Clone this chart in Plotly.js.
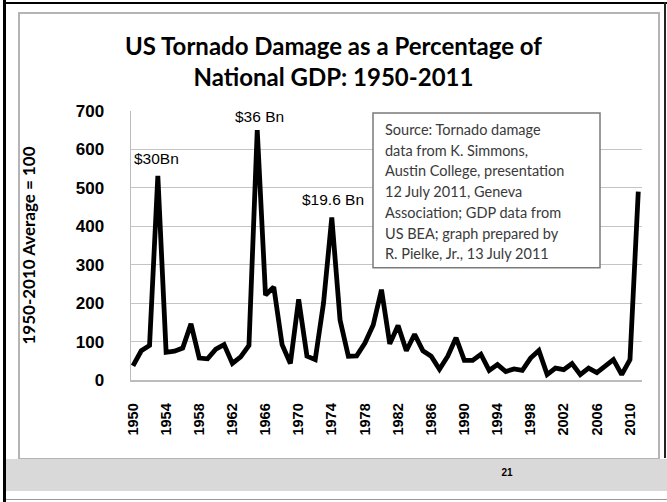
<!DOCTYPE html>
<html>
<head>
<meta charset="utf-8">
<script src="https://cdn.plot.ly/plotly-3.0.1.min.js"></script>
<style>
  html, body { margin: 0; padding: 0; background: #ffffff; }
  #wrap { position: relative; width: 667px; height: 502px; overflow: hidden; background: #ffffff; }
  .deco { position: absolute; pointer-events: none; }
  #chart { position: absolute; left: 0; top: 0; width: 667px; height: 502px; }
</style>
</head>
<body>
<div id="wrap">
  <div class="deco" style="left:3px; top:0; width:3px; height:502px; background:#000;"></div>
  <div class="deco" style="left:3px; top:2px; width:664px; height:2px; background:#000;"></div>
  <div class="deco" style="left:664px; top:2px; width:2px; height:456px; background:#222;"></div>
  <div class="deco" style="left:18px; top:12px; width:638px; height:444px; border:2px solid #b4b4b4; background:#fff;"></div>
  <div class="deco" style="left:6px; top:459px; width:661px; height:32px; background:#d9d9d9;"></div>
  <div class="deco" style="left:6px; top:499px; width:661px; height:1px; background:#9a9a9a;"></div>
  <div class="deco" style="left:497px; top:465px; width:20px; text-align:center; font-family:'Liberation Sans', Arial, sans-serif; font-weight:bold; font-size:10px; line-height:16px; color:#000;">21</div>
  <div id="chart"></div>
</div>
<script>
// ---- data ----
var years = [1950,1951,1952,1953,1954,1955,1956,1957,1958,1959,
             1960,1961,1962,1963,1964,1965,1966,1967,1968,1969,
             1970,1971,1972,1973,1974,1975,1976,1977,1978,1979,
             1980,1981,1982,1983,1984,1985,1986,1987,1988,1989,
             1990,1991,1992,1993,1994,1995,1996,1997,1998,1999,
             2000,2001,2002,2003,2004,2005,2006,2007,2008,2009,
             2010,2011];
var damageIndex = [37,76,90,531,72,75,83,146,57,55,
                   80,92,43,60,90,650,221,242,92,43,
                   210,62,53,200,423,156,62,63,96,143,
                   235,94,142,76,119,76,62,28,62,110,
                   51,51,67,25,40,22,29,25,57,77,
                   14,31,27,43,14,31,19,37,53,14,
                   53,490];
var peakLabels = ["$30Bn", "$36 Bn", "$19.6 Bn"];
var peakLabelX = [1952.8, 1965.3, 1974.1];
var peakLabelY = [576, 686, 470];
var sourceLines = [
  "Source: Tornado damage",
  "data from K. Simmons,",
  "Austin College, presentation",
  "12 July 2011, Geneva",
  "Association; GDP data from",
  "US BEA; graph prepared by",
  "R. Pielke, Jr., 13 July 2011"
];
var titleText = "US Tornado Damage as a Percentage of<br>National GDP: 1950-2011";
var yTitleText = "1950-2010 Average = 100";

// ---- layout helpers ----
var plotL = 131, plotR = 642, plotT = 111, plotB = 380.5;
var W = 667, H = 502;
function px2x(px) { return (px - plotL) / (plotR - plotL); }
function px2y(py) { return (plotB - py) / (plotB - plotT); }

var annotations = [];
for (var i = 0; i < peakLabels.length; i++) {
  annotations.push({
    x: peakLabelX[i], y: peakLabelY[i], xref: 'x', yref: 'y',
    text: peakLabels[i], showarrow: false, xanchor: 'center', yanchor: 'middle',
    font: { family: "'Liberation Sans', Arial, sans-serif", size: 15.5, color: '#000' }
  });
}
var boxTextStart = 129.5, boxTextStep = 20.75;
for (var j = 0; j < sourceLines.length; j++) {
  annotations.push({
    x: px2x(383), y: px2y(boxTextStart + j * boxTextStep), xref: 'paper', yref: 'paper',
    text: sourceLines[j], showarrow: false, xanchor: 'left', yanchor: 'middle',
    font: { family: "Lato, 'Open Sans', sans-serif", size: 14.5, color: '#3a3a3a' }
  });
}

var trace = {
  x: years, y: damageIndex, type: 'scatter', mode: 'lines',
  line: { color: '#000000', width: 4.8, shape: 'linear' },
  hoverinfo: 'x+y'
};

var layout = {
  width: W, height: H,
  margin: { l: plotL, r: W - plotR, t: plotT, b: H - plotB, pad: 0 },
  paper_bgcolor: 'rgba(0,0,0,0)',
  plot_bgcolor: 'rgba(0,0,0,0)',
  showlegend: false,
  title: {
    text: titleText, x: 0.5, xanchor: 'center', xref: 'container',
    y: 1 - 55 / H, yanchor: 'top', yref: 'container',
    font: { family: "Lato, 'Open Sans', sans-serif", size: 24, color: '#000', weight: 'bold' }
  },
  xaxis: {
    type: 'linear', range: [1949.76, 2011.45],
    tickmode: 'linear', tick0: 1950, dtick: 4,
    tickangle: -90, ticks: '', ticklabelstandoff: 16,
    tickfont: { family: "'Liberation Sans', Arial, sans-serif", size: 14.5, color: '#000', weight: 'bold' },
    showgrid: false, zeroline: false,
    showline: true, linecolor: '#bcbcbc', linewidth: 1.5,
    fixedrange: true
  },
  yaxis: {
    range: [0, 700], tickmode: 'linear', tick0: 0, dtick: 100,
    ticks: '', ticklabelstandoff: 22,
    tickfont: { family: "'Liberation Sans', Arial, sans-serif", size: 17, color: '#000', weight: 'bold' },
    showgrid: true, gridcolor: '#c4c4c4', gridwidth: 1.2,
    zeroline: false, showline: true, linecolor: '#bcbcbc', linewidth: 1.5,
    title: {
      text: yTitleText, standoff: 36,
      font: { family: "Lato, 'Open Sans', sans-serif", size: 17, color: '#000', weight: 'bold' }
    },
    fixedrange: true
  },
  shapes: [{
    type: 'rect', xref: 'paper', yref: 'paper',
    x0: px2x(373), x1: px2x(600), y0: px2y(268), y1: px2y(113),
    line: { color: '#7a7a7a', width: 1.5 }, fillcolor: '#ffffff', layer: 'above'
  }],
  annotations: annotations
};

Plotly.newPlot('chart', [trace], layout, { displayModeBar: false, staticPlot: true });
</script>
</body>
</html>
